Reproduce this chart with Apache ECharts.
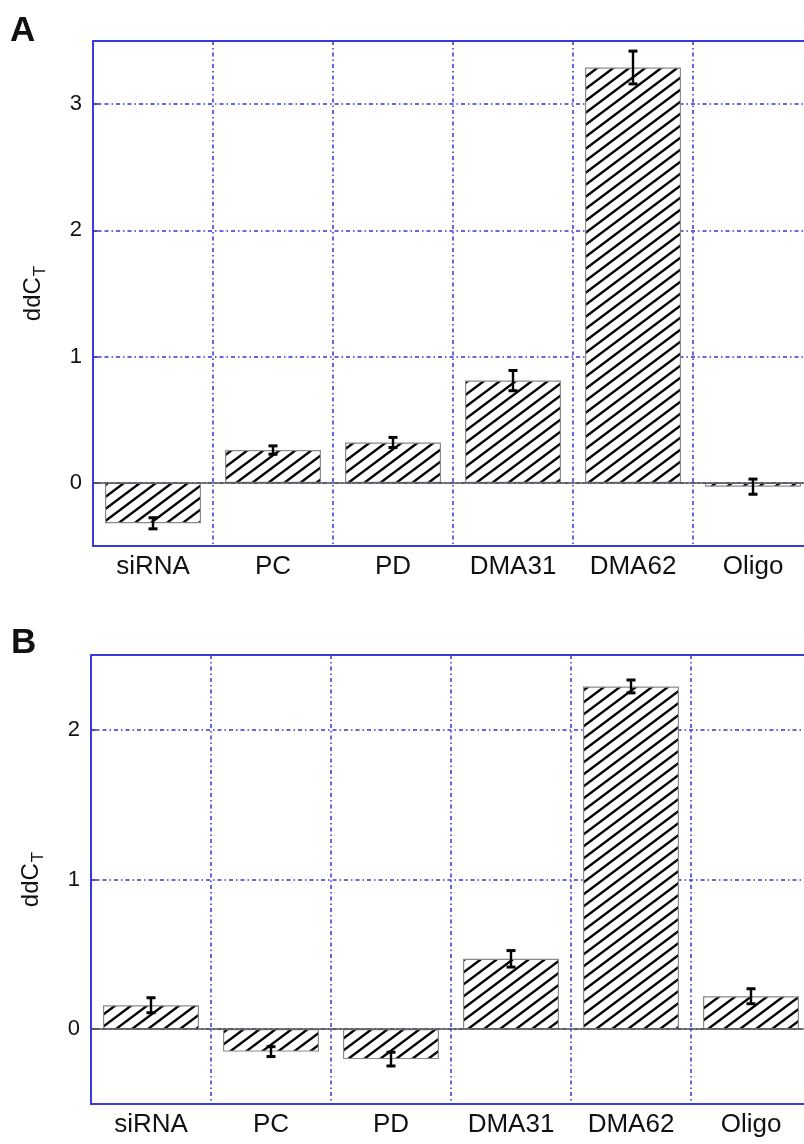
<!DOCTYPE html>
<html><head><meta charset="utf-8">
<script src="https://cdn.jsdelivr.net/npm/echarts@6/dist/echarts.min.js"></script>
<style>html,body{margin:0;padding:0;background:#fff}#c{width:804px;height:1144px}</style>
</head><body><div id="c"></div><script>
const categories = ['siRNA', 'PC', 'PD', 'DMA31', 'DMA62', 'Oligo'];
const valuesA = [-0.32, 0.26, 0.32, 0.81, 3.29, -0.03];
const errorsA = [0.044, 0.033, 0.04, 0.08, 0.13, 0.06];
const valuesB = [0.16, -0.15, -0.20, 0.47, 2.29, 0.22];
const errorsB = [0.05, 0.033, 0.046, 0.055, 0.043, 0.05];
const yTicksA = [0, 1, 2, 3];
const yTicksB = [0, 1, 2];
const yRangeA = [-0.5, 3.5];
const yRangeB = [-0.5, 2.5];
const panelLetters = ['A', 'B'];
const yName = 'ddC';
const ySub = 'T';

const FONT = 'Liberation Sans, Arial, Helvetica, sans-serif';
const BLUE = '#3a3ae0';
const GRIDBLUE = '#3535dc';

function hatchCanvas() {
  const W = 16, H = 12;
  const c = document.createElement('canvas');
  c.width = W; c.height = H;
  const g = c.getContext('2d');
  g.fillStyle = '#fff'; g.fillRect(0, 0, W, H);
  g.strokeStyle = '#000'; g.lineWidth = 2.4; g.lineCap = 'butt';
  g.beginPath();
  for (const o of [-2 * W, -W, 0, W, 2 * W]) { g.moveTo(o - W, 2 * H); g.lineTo(o + 2 * W, -H); }
  g.stroke();
  return c;
}
const hatch = { image: hatchCanvas(), repeat: 'repeat' };

const grids = [
  { left: 93, top: 41, right: -9, height: 505, outerBoundsMode: 'none', containLabel: false },
  { left: 91, top: 655, right: -7, height: 449, outerBoundsMode: 'none', containLabel: false }
];

function xAxes(gi) {
  return [
    {
      type: 'category', gridIndex: gi, data: categories, position: 'bottom',
      axisLine: { onZero: false, lineStyle: { color: BLUE, width: 2 } },
      axisTick: { inside: true, length: 10, lineStyle: { color: BLUE, width: 1.5 } },
      axisLabel: { fontSize: 26, fontFamily: FONT, color: '#111', margin: 8 },
      splitLine: { show: true, lineStyle: { color: GRIDBLUE, width: 1.5, type: [4, 3, 1.5, 3] } }
    },
    {
      type: 'category', gridIndex: gi, data: categories, position: 'top',
      axisLine: { onZero: false, lineStyle: { color: BLUE, width: 2 } },
      axisTick: { inside: true, length: 10, lineStyle: { color: BLUE, width: 1.5 } },
      axisLabel: { show: false }, splitLine: { show: false }
    }
  ];
}
function yAxis(gi, range, ticks) {
  return {
    type: 'value', gridIndex: gi, min: range[0], max: range[1],
    name: '{m|' + yName + '}{s|' + ySub + '}', nameLocation: 'middle', nameGap: 47, nameRotate: 90,
    nameTextStyle: {
      rich: {
        m: { fontSize: 24, fontFamily: FONT, color: '#111', lineHeight: 26, verticalAlign: 'middle' },
        s: { fontSize: 17, fontFamily: FONT, color: '#111', lineHeight: 17, padding: [15, 0, 0, 1] }
      }
    },
    axisLine: { show: true, onZero: false, lineStyle: { color: BLUE, width: 2 } },
    axisTick: { show: true, inside: true, length: 7, customValues: ticks, lineStyle: { color: BLUE, width: 1.5 } },
    axisLabel: { customValues: ticks, fontSize: 22, fontFamily: FONT, color: '#111', margin: 11 },
    splitLine: { show: true, lineStyle: { color: GRIDBLUE, width: 1.5, type: [4, 3, 1.5, 3] } }
  };
}
function barSeries(gi, vals) {
  return {
    type: 'bar', xAxisIndex: gi * 2, yAxisIndex: gi, data: vals, barWidth: '80%',
    itemStyle: { color: hatch, borderColor: '#8a8a8a', borderWidth: 1.2 },
    emphasis: { disabled: true }, silent: true, z: 3,
    markLine: {
      silent: true, symbol: 'none', label: { show: false },
      lineStyle: { color: '#555', width: 1.6, type: 'solid' },
      data: [{ yAxis: 0 }], animation: false
    }
  };
}
function errSeries(gi, vals, errs) {
  return {
    type: 'custom', xAxisIndex: gi * 2, yAxisIndex: gi, z: 10, silent: true,
    data: vals.map((v, i) => [i, v - errs[i], v + errs[i]]),
    encode: { x: 0, y: [1, 2] },
    renderItem(params, api) {
      const x = api.value(0);
      const lo = api.coord([x, api.value(1)]);
      const hi = api.coord([x, api.value(2)]);
      const cw = 4.5;
      return {
        type: 'group', children: [
          { type: 'line', shape: { x1: lo[0], y1: lo[1], x2: hi[0], y2: hi[1] }, style: { stroke: '#000', lineWidth: 2.4 } },
          { type: 'line', shape: { x1: lo[0] - cw, y1: lo[1], x2: lo[0] + cw, y2: lo[1] }, style: { stroke: '#000', lineWidth: 3 } },
          { type: 'line', shape: { x1: hi[0] - cw, y1: hi[1], x2: hi[0] + cw, y2: hi[1] }, style: { stroke: '#000', lineWidth: 3 } }
        ]
      };
    }
  };
}

const chart = echarts.init(document.getElementById('c'), null, { renderer: 'canvas' });
chart.setOption({
  animation: false,
  backgroundColor: '#fff',
  grid: grids,
  xAxis: [...xAxes(0), ...xAxes(1)],
  yAxis: [yAxis(0, yRangeA, yTicksA), yAxis(1, yRangeB, yTicksB)],
  series: [
    barSeries(0, valuesA), errSeries(0, valuesA, errorsA),
    barSeries(1, valuesB), errSeries(1, valuesB, errorsB)
  ],
  graphic: [
    { type: 'text', left: 10, top: 14, style: { text: panelLetters[0], font: 'bold 35px ' + FONT, fill: '#111' } },
    { type: 'text', left: 11, top: 626, style: { text: panelLetters[1], font: 'bold 35px ' + FONT, fill: '#111' } }
  ]
});
</script></body></html>
